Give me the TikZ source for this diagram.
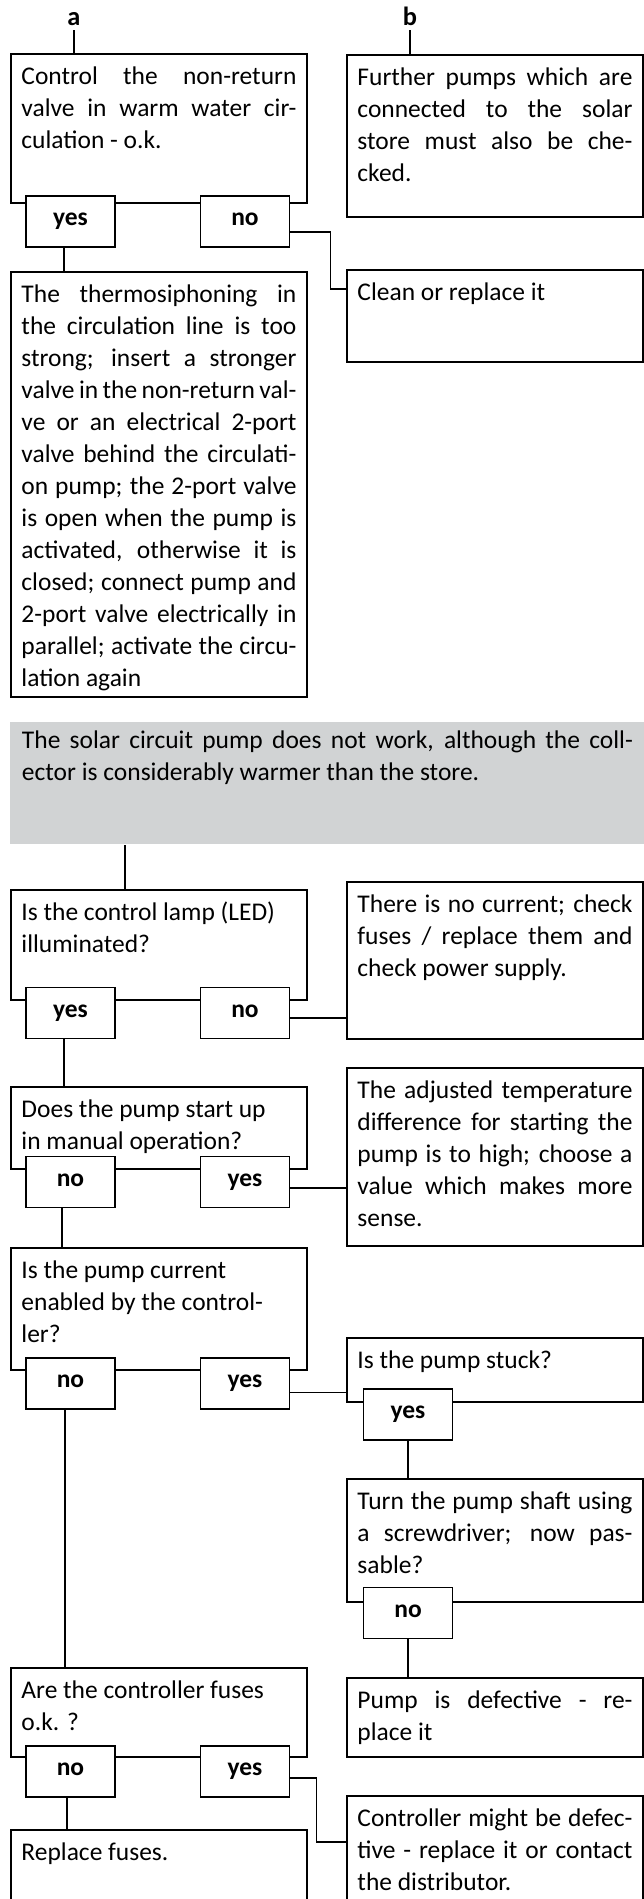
\documentclass[tikz,border=0pt]{standalone}
\usepackage{fontspec}
\setmainfont{Carlito}
\usepackage{xcolor}
\usepackage{tikz}

\definecolor{panelgray}{RGB}{209,211,212}

\begin{document}
\begin{tikzpicture}[
  box/.style={draw, rectangle, line width=1.1pt, anchor=north west,
              text width=5.5cm, inner xsep=0.21cm, inner ysep=0.2cm,
              text height=0.42cm, align=justify,
              font=\fontsize{14.5}{18.2}\selectfont},
  tab/.style={draw, rectangle, line width=1.1pt, fill=white,
              minimum width=1.78cm, minimum height=1.02cm, inner sep=0pt,
              text height=1ex, text depth=0pt,
              font=\fontsize{14.5}{16}\selectfont\bfseries},
  lbl/.style={font=\fontsize{15}{17}\selectfont\bfseries, anchor=south,
              inner sep=2pt},
  lnk/.style={line width=1.1pt}
]
\useasboundingbox (0,0) rectangle (12.88,-37.98);
\clip (0,0) rectangle (12.88,-37.98);

%% ---- column a and b ----
\node[lbl] (la) at (1.48, -0.6) {a};
\node[lbl] (lb) at (8.2, -0.6) {b};

\node[box, text depth=2.16cm] (ctrl) at (0.2, -1.06) {
  Control the non-return\linebreak
  valve in warm water cir-\linebreak
  culation - o.k.
};
\node[box, text depth=2.42cm] (further) at (6.92, -1.08) {
  Further pumps which are\linebreak
  connected to the solar\linebreak
  store must also be che-\linebreak
  cked.
};
\node[box, text depth=1.02cm] (clean) at (6.92, -5.38) {
  Clean or replace it
};
\node[box, text depth=7.68cm] (thermo) at (0.2, -5.42) {
  The thermosiphoning in\linebreak
  the circulation line is too\linebreak
  strong; insert a stronger\linebreak
  valve in the non-return val-\linebreak
  ve or an electrical 2-port\linebreak
  valve behind the circulati-\linebreak
  on pump; the 2-port valve\linebreak
  is open when the pump is\linebreak
  activated, otherwise it is\linebreak
  closed; connect pump and\linebreak
  2-port valve electrically in\linebreak
  parallel; activate the circu-\linebreak
  lation again
};

\node[tab] (ctrlY) at (1.41, -4.43) {yes};
\node[tab] (ctrlN) at (4.9, -4.43) {no};

%% ---- pump does not work ----
\node[box, draw=none, fill=panelgray, text width=12.22cm, inner xsep=0.24cm,
      inner ysep=0.12cm, text depth=1.78cm] (solar) at (0.18, -14.42) {
  The solar circuit pump does not work, although the coll-\linebreak
  ector is considerably warmer than the store.
};

\node[box, text depth=1.38cm] (lamp) at (0.2, -17.78) {
  Is the control lamp (LED)\\
  illuminated?
};
\node[box, text depth=2.32cm] (nocurr) at (6.92, -17.62) {
  There is no current; check\linebreak
  fuses / replace them and\linebreak
  check power supply.
};
\node[box, text depth=0.82cm] (manual) at (0.2, -21.72) {
  Does the pump start up\\
  in manual operation?
};
\node[box, text depth=2.74cm] (tempdiff) at (6.92, -21.34) {
  The adjusted temperature\linebreak
  difference for starting the\linebreak
  pump is to high; choose a\linebreak
  value which makes more\linebreak
  sense.
};
\node[box, text depth=1.62cm] (enabled) at (0.2, -24.94) {
  Is the pump current\\
  enabled by the control-\\
  ler?
};
\node[box, text depth=0.46cm] (stuck) at (6.92, -26.74) {
  Is the pump stuck?
};
\node[box, text depth=1.64cm] (shaft) at (6.92, -29.56) {
  Turn the pump shaft using\linebreak
  a screwdriver; now pas-\linebreak
  sable?
};
\node[box, text depth=0.76cm] (defect) at (6.92, -33.54) {
  Pump is defective - re-\linebreak
  place it
};
\node[box, text depth=0.96cm] (fuses) at (0.2, -33.34) {
  Are the controller fuses\\
  o.k. ?
};
\node[box, text depth=3cm] (ctrldef) at (6.92, -35.9) {
  Controller might be defec-\linebreak
  tive - replace it or contact\linebreak
  the distributor.
};
\node[box, text depth=3cm] (replace) at (0.2, -36.58) {
  Replace fuses.
};

%% ---- answer tabs ----
\node[tab] (lampY) at (1.41, -20.26) {yes};
\node[tab] (lampN) at (4.9, -20.26) {no};
\node[tab] (manualN) at (1.41, -23.64) {no};
\node[tab] (manualY) at (4.9, -23.64) {yes};
\node[tab] (enabledN) at (1.41, -27.67) {no};
\node[tab] (enabledY) at (4.9, -27.67) {yes};
\node[tab] (stuckY) at (8.16, -28.29) {yes};
\node[tab] (shaftN) at (8.16, -32.26) {no};
\node[tab] (fusesN) at (1.41, -35.43) {no};
\node[tab] (fusesY) at (4.9, -35.43) {yes};

%% ---- lines ----
\draw[lnk] (la) -- (la |- ctrl.north);
\draw[lnk] (lb) -- (lb |- further.north);
\draw[lnk] ([xshift=-0.13cm]ctrlY.south) -- ([xshift=-0.13cm]ctrlY.south |- thermo.north);
\draw[lnk] ([yshift=-0.21cm]ctrlN.east) -- ++(0.8,0)
  |- ([yshift=-0.4cm]clean.north west);

\draw[lnk] ([xshift=2.3cm]lamp.north west) -- ([xshift=2.3cm]lamp.north west |- solar.south);
\draw[lnk] ([yshift=-0.1cm]lampN.east) -- ([yshift=-0.1cm]lampN.east -| nocurr.west);
\draw[lnk] ([xshift=-0.13cm]lampY.south) -- ([xshift=-0.13cm]lampY.south |- manual.north);
\draw[lnk] ([yshift=-0.12cm]manualY.east) -- ([yshift=-0.12cm]manualY.east -| tempdiff.west);
\draw[lnk] ([xshift=-0.17cm]manualN.south) -- ([xshift=-0.17cm]manualN.south |- enabled.north);
\draw[lnk] ([yshift=-0.18cm]enabledY.east) -- ([yshift=-0.18cm]enabledY.east -| stuck.west);
\draw[lnk] (stuckY) -- (stuckY |- shaft.north);
\draw[lnk] (shaftN) -- (shaftN |- defect.north);
\draw[lnk] ([xshift=-0.11cm]enabledN.south) -- ([xshift=-0.11cm]enabledN.south |- fuses.north);
\draw[lnk] ([xshift=-0.07cm]fusesN.south) -- ([xshift=-0.07cm]fusesN.south |- replace.north);
\draw[lnk] ([yshift=-0.13cm]fusesY.east) -- ++(0.52,0)
  |- ([yshift=-0.94cm]ctrldef.north west);

\end{tikzpicture}
\end{document}
